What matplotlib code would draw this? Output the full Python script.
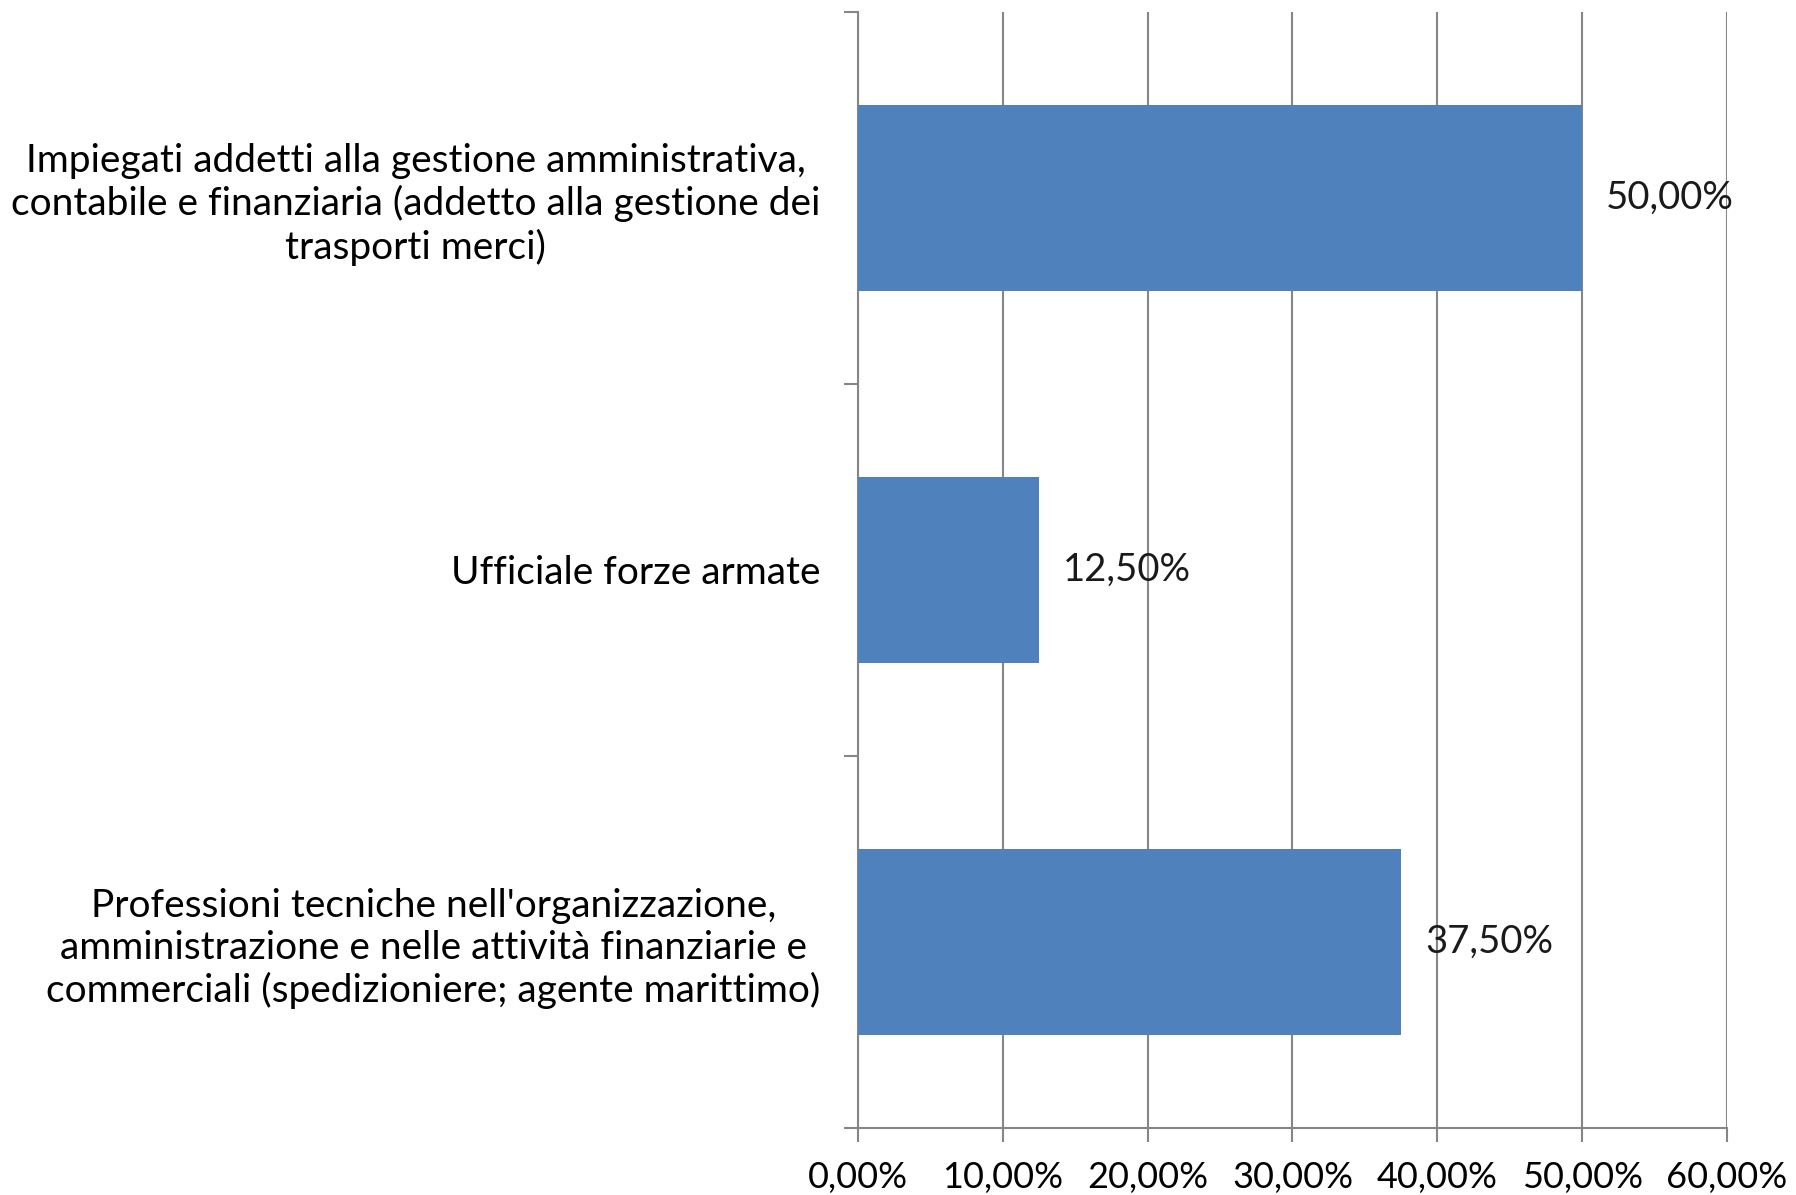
import matplotlib
matplotlib.use("Agg")
import matplotlib.pyplot as plt

categories = [
    "Impiegati addetti alla gestione amministrativa,\ncontabile e finanziaria (addetto alla gestione dei\ntrasporti merci)",
    "Ufficiale forze armate",
    "Professioni tecniche nell'organizzazione,\namministrazione e nelle attività finanziarie e\ncommerciali (spedizioniere; agente marittimo)",
]
values = [50.0, 12.5, 37.5]
xticks = [0, 10, 20, 30, 40, 50, 60]

bar_color = "#4F81BD"
axis_gray = "#868686"
font = ["Lato", "DejaVu Sans"]

fig = plt.figure(figsize=(17.96, 11.95), dpi=100)
ax = fig.add_axes([0.4777, 0.0561, 0.9616 - 0.4777, 0.99 - 0.0561])

ypos = list(range(len(categories)))
ax.barh(ypos, values, height=0.5, color=bar_color, zorder=3)

ax.set_xlim(0, 60)
ax.set_ylim(len(categories) - 0.5, -0.5)

# x axis: percent labels with comma decimals
ax.set_xticks(xticks)
ax.set_xticklabels([f"{v:.2f}%".replace(".", ",") for v in xticks],
                   family=font, fontsize=26)
ax.tick_params(axis="x", direction="out", length=10, width=1.5, color=axis_gray, pad=14)
ax.xaxis.grid(True, color=axis_gray, linewidth=1.5, zorder=0)

# y axis: category names, tick marks between categories
ax.set_yticks(ypos)
ax.set_yticklabels(categories, fontsize=28, family=font, multialignment="center")
ax.tick_params(axis="y", which="major", length=0, pad=27)
ax.set_yticks([i - 0.5 for i in range(len(categories) + 1)], minor=True)
ax.tick_params(axis="y", which="minor", direction="out", length=10, width=1.5, color=axis_gray)

for s in ["top", "right"]:
    ax.spines[s].set_visible(False)
for s in ["left", "bottom"]:
    ax.spines[s].set_color(axis_gray)
    ax.spines[s].set_linewidth(1.5)

for y, v in zip(ypos, values):
    ax.annotate(f"{v:.2f}%".replace(".", ","), (v, y), xytext=(24, 0),
                textcoords="offset pixels", va="center", ha="left",
                fontsize=27.5, family=font, color="#1a1a1a", zorder=4)

fig.savefig("out.png", dpi=100, facecolor="white")
